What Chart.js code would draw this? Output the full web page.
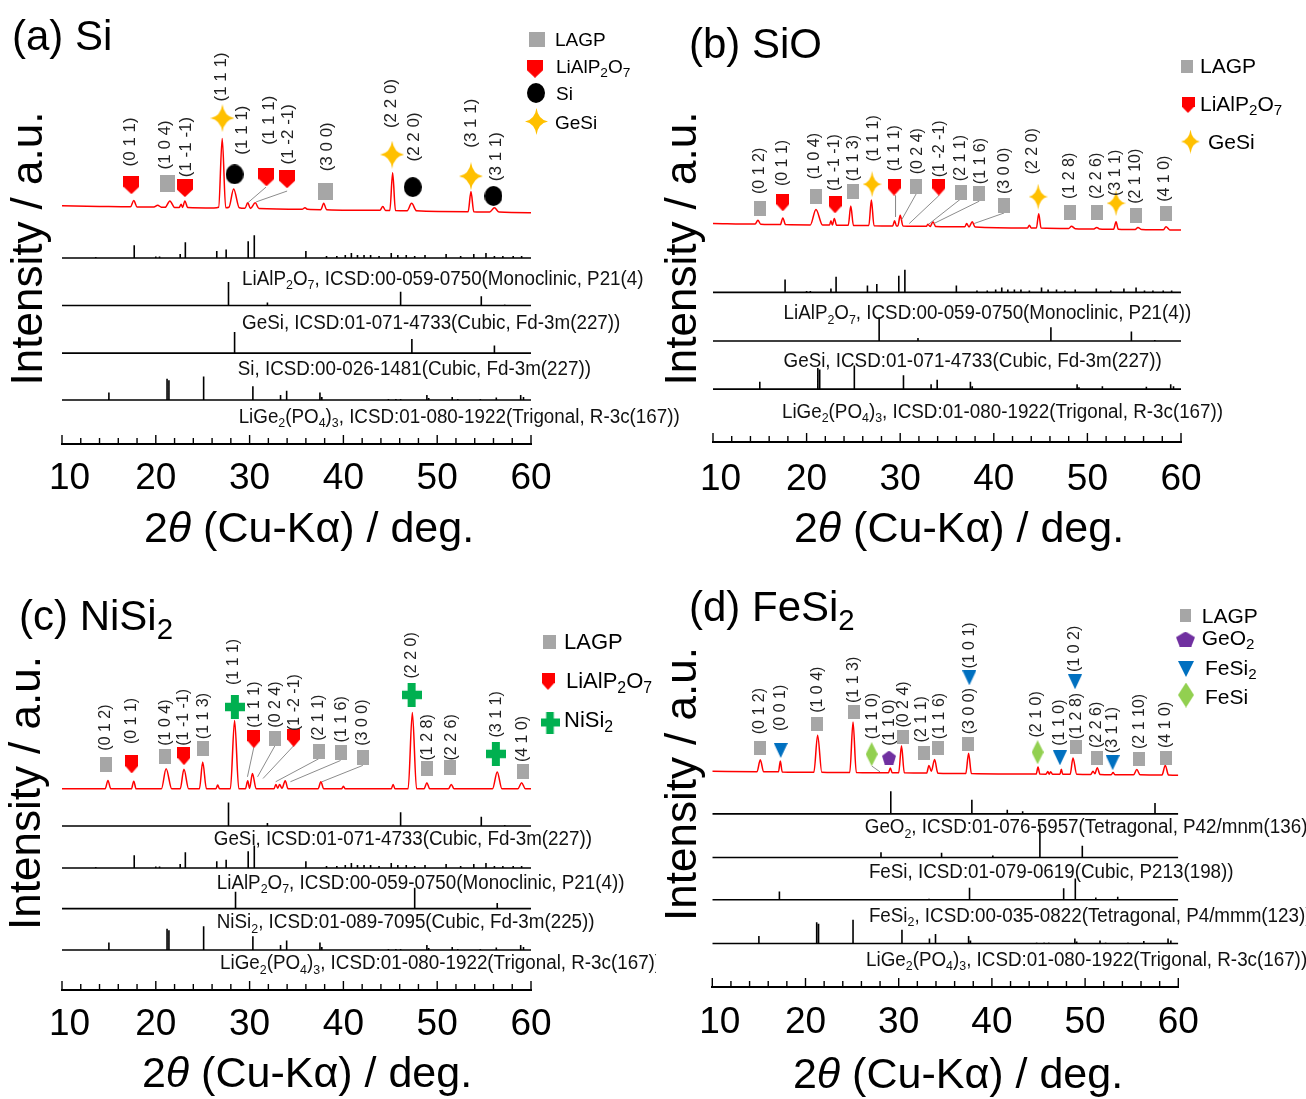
<!DOCTYPE html>
<html><head><meta charset="utf-8">
<script src="https://cdn.jsdelivr.net/npm/chart.js@4.4.1/dist/chart.umd.min.js"></script>
<style>
html,body{margin:0;padding:0;background:#fff;}
body{width:1306px;height:1099px;position:relative;overflow:hidden;}
canvas{position:absolute;}
</style></head><body>
<canvas id="cb" width="653" height="560" style="left:653px;top:0"></canvas>
<canvas id="cd" width="653" height="539" style="left:653px;top:560px"></canvas>
<canvas id="ca" width="700" height="560" style="left:0;top:0"></canvas>
<canvas id="cc" width="656" height="539" style="left:0;top:560px"></canvas>
<script>
// ---------------- DATA ----------------
const X_TICK_LABELS = [10, 20, 30, 40, 50, 60];

// measured patterns: [2theta, intensity (a.u.)]
const A_PATTERN = [[10,7],[14,6.4],[17.3,6],[17.65,12.3],[18.0,5.9],[19.8,5.7],[20.2,7.5],[20.6,5.6],[21.0,5.5],[21.5,12],[22.0,5.4],[22.5,5.4],[22.7,8.5],[22.85,5.4],[23.1,12],[23.4,5.3],[26.2,4.8],[26.7,5.5],[27.08,75.5],[27.45,5],[27.8,5.5],[28.3,24],[28.9,5],[29.5,4.4],[29.8,10],[30.1,4.3],[30.6,10],[31.0,4.2],[35.6,3.5],[35.9,5],[36.2,3.4],[37.6,3.1],[37.9,9.7],[38.2,3.1],[43.9,2.4],[44.2,6.3],[44.5,2.3],[44.95,2.2],[45.25,40.5],[45.55,2.2],[46.8,2],[47.27,9.5],[47.8,1.9],[53.3,1],[53.6,21.5],[53.9,1],[55.6,0.7],[56.1,5],[56.6,0.6],[60,0]];
const B_PATTERN = [[10,6.7],[14.5,6.1],[14.8,10],[15.1,6.0],[17.2,5.7],[17.46,12.4],[17.75,5.6],[20.4,5.3],[21.0,21],[21.7,5.2],[22.45,5.1],[22.6,9.5],[22.75,5.1],[22.96,11.7],[23.2,5.0],[24.45,4.9],[24.72,24.4],[25.0,4.8],[26.65,4.6],[26.92,30.7],[27.2,4.5],[29.2,4.3],[29.4,9.4],[29.6,4.2],[29.75,4.2],[30.0,15],[30.3,4.1],[32.8,3.8],[32.95,6],[33.2,3.7],[33.5,8.4],[33.8,3.6],[36.9,3.3],[37.1,6.7],[37.35,3.2],[37.7,8.4],[38.0,3.2],[43.6,2.2],[43.8,5],[44.0,2.2],[44.55,2.1],[44.8,16.7],[45.05,2.1],[48.0,1.6],[48.3,4],[48.7,1.5],[50.7,1.2],[51.0,2.7],[51.3,1.2],[52.8,0.9],[53.06,8.4],[53.3,0.9],[55.1,0.6],[55.4,2.7],[55.8,0.6],[58.1,0.3],[58.4,3.4],[58.8,0.2],[60,0]];
const C_PATTERN = [[10,0.5],[14.6,0.5],[14.9,9],[15.2,0.5],[17.4,0.5],[17.65,8.3],[17.9,0.5],[20.6,0.5],[21.1,21],[21.7,0.5],[22.6,0.5],[23.0,20.3],[23.5,0.5],[24.65,0.5],[25.0,27.7],[25.4,0.5],[26.4,0.5],[26.6,4.3],[26.8,0.5],[27.95,0.5],[28.4,70],[28.85,0.5],[29.55,0.5],[29.8,8.7],[30.0,1],[30.3,16],[30.7,0.5],[32.6,0.5],[32.8,5],[33.0,1],[33.2,5],[33.45,1],[33.8,8.7],[34.1,0.5],[37.3,0.5],[37.6,7.7],[37.9,0.5],[39.8,0.5],[40.0,3],[40.2,0.5],[45.1,0.5],[45.3,5],[45.5,0.5],[46.9,0.5],[47.35,78],[47.8,0.5],[48.6,0.5],[48.9,6.7],[49.2,0.5],[51.2,0.5],[51.5,5],[51.8,0.5],[55.9,0.5],[56.4,17.7],[56.9,0.5],[58.6,0.5],[59.0,6.7],[59.4,0.5],[60,0.5]];
const D_PATTERN = [[10,4.0],[14.8,3.6],[15.15,15.7],[15.5,3.6],[17.1,3.5],[17.3,14.4],[17.5,3.4],[20.9,3.1],[21.3,40.7],[21.75,3.1],[24.75,2.8],[25.1,54],[25.45,2.8],[28.9,2.5],[29.1,7.4],[29.3,2.5],[30.0,2.4],[30.3,30],[30.6,2.4],[33.0,2.2],[33.25,10],[33.5,4],[33.85,16],[34.2,2.1],[37.2,1.8],[37.5,22.4],[37.8,1.8],[44.75,1.2],[44.95,8.4],[45.15,1.2],[45.8,1.1],[46.0,3.7],[46.15,1.1],[46.3,3.5],[46.5,1.1],[47.3,1],[47.45,6],[47.6,1],[48.4,1],[48.7,17.4],[49.1,1],[50.6,0.8],[50.85,4],[51.05,1.5],[51.3,7.7],[51.6,0.8],[52.8,0.6],[53.0,2.7],[53.2,0.6],[55.2,0.4],[55.55,5.7],[55.9,0.4],[58.25,0.2],[58.6,10],[58.95,0.2],[60,0]];

// reference cards: [2theta, relative intensity]
const CARD_LIALP2O7 = [[13.6,1],[17.7,13],[20.0,1.5],[20.4,1.5],[22.6,4],[23.15,16],[26.5,7],[27.5,8.5],[29.85,17],[30.5,23],[36.0,7],[38.2,2],[39.3,2],[40.2,3],[40.85,5],[41.5,3],[42.2,3],[42.9,3],[43.8,2],[45.1,5],[45.8,3],[46.7,3],[47.6,2],[48.7,3],[50.95,4],[52.5,2],[53.9,4],[55.2,5],[56.1,2],[57.0,2],[58.1,2],[59.0,2]];
const CARD_GESI = [[27.75,24],[31.9,3],[46.1,14],[54.7,9.5],[57.2,1]];
const CARD_SI = [[28.4,21.5],[47.3,14.3],[56.1,7.7]];
const CARD_LIGE = [[15.0,7.5],[21.2,21.5],[21.4,20],[25.1,24],[30.35,14],[33.3,5],[33.95,9.5],[37.5,7.5],[37.7,3],[43.5,0.8],[44.8,1],[45.6,1],[46.1,1],[48.9,5],[49.1,2],[51.6,3],[52.2,1],[54.6,1],[56.3,2.5],[58.9,5],[59.2,3]];
const CARD_NISI2 = [[28.5,17.3],[47.6,21.3],[56.4,5.7]];
const CARD_GEO2 = [[29.15,23],[37.85,14.3],[41.65,4.3],[43.3,2.7],[57.5,11]];
const CARD_FESI = [[28.1,5.3],[34.6,4.7],[40.1,2],[45.15,32],[49.7,12]];
const CARD_FESI2 = [[17.2,8.3],[33.25,1],[37.6,12.3],[47.7,11.7],[48.95,21.7],[51.15,2.3],[53.5,3]];

// phase markers: [2theta, level]
const A_LAGP = [[21.2,264.5],[38.1,257]];
const A_LIALP = [[17.4,263],[23.1,260],[31.8,271],[34.0,269]];
const A_SI = [[28.4,274],[47.4,261],[56.0,252]];
const A_GESI = [[27.1,331],[45.2,294],[53.6,272]];
const B_LAGP = [[15.0,237.5],[20.97,249],[24.94,254.5],[31.7,260],[36.47,254],[38.45,252],[41.1,240.3],[48.13,233],[51.0,233],[55.18,230.5],[58.39,232]];
const B_LIALP = [[17.46,243],[23.04,241],[29.34,259],[34.13,259]];
const B_GESI = [[27.0,262],[44.74,249.3],[53.06,242.7]];
const C_LAGP = [[14.7,229.3],[21.02,237.7],[25.06,245],[32.7,256],[37.36,242.3],[39.7,241],[42.07,236],[48.93,225],[51.4,225.7],[59.1,222.3]];
const C_LIALP = [[17.43,229.3],[23.0,237.7],[30.45,255],[34.7,256.3]];
const C_NISI2 = [[28.43,287.7],[47.27,300],[56.25,240]];
const D_LAGP = [[15.12,243.2],[21.27,267.8],[25.2,280],[30.5,253.7],[32.75,238.2],[34.25,243.3],[37.47,247.3],[48.99,243.7],[51.24,232.5],[55.82,231.5],[58.65,233.2]];
const D_FESI2 = [[17.34,240.5],[37.58,314.3],[47.3,233],[48.92,310.3],[52.96,228]];
const D_FESI = [[27.1,236.7],[44.9,238.7]];
const D_GEO2 = [[28.96,233.3]];

// hkl labels: [2theta, level, text]
const A_HKL = [[17.3,282,'(0 1 1)'],[21.0,279,'(1 0 4)'],[23.3,271,'(1 -1 -1)'],[26.95,348,'(1 1 1)'],[29.2,294,'(1 1 1)'],[32.1,304,'(1 1 1)'],[34.1,284,'(1 -2 -1)'],[38.3,277,'(3 0 0)'],[45.1,321,'(2 2 0)'],[47.6,287,'(2 2 0)'],[53.6,301,'(3 1 1)'],[56.3,267,'(3 1 1)']];
const B_HKL = [[15.0,252,'(0 1 2)'],[17.46,260,'(0 1 1)'],[20.85,267,'(1 0 4)'],[23.04,255,'(1 -1 -1)'],[25.02,265,'(1 1 3)'],[27.2,285,'(1 1 1)'],[29.43,275,'(1 1 1)'],[31.85,272,'(0 2 4)'],[34.18,269,'(1 -2 -1)'],[36.47,265,'(2 1 1)'],[38.58,262,'(1 1 6)'],[41.1,252,'(3 0 0)'],[44.18,272,'(2 2 0)'],[48.13,247,'(1 2 8)'],[51.0,247,'(2 2 6)'],[52.98,250,'(3 1 1)'],[55.18,242,'(2 1 10)'],[58.26,244,'(4 1 0)']];
const C_HKL = [[14.7,243.3,'(0 1 2)'],[17.43,250,'(0 1 1)'],[21.02,248.3,'(1 0 4)'],[23.0,248.3,'(1 -1 -1)'],[25.06,255,'(1 1 3)'],[28.3,310,'(1 1 1)'],[30.5,266.7,'(1 1 1)'],[32.8,266.7,'(0 2 4)'],[34.8,263.3,'(1 -2 -1)'],[37.36,253.3,'(2 1 1)'],[39.83,251.7,'(1 1 6)'],[42.07,248.3,'(3 0 0)'],[47.27,316.7,'(2 2 0)'],[48.93,233.3,'(1 2 8)'],[51.5,233.3,'(2 2 6)'],[56.3,256.7,'(3 1 1)'],[59.1,231.7,'(4 1 0)']];
const D_HKL = [[15.12,257,'(0 1 2)'],[17.34,260.3,'(0 0 1)'],[21.27,278.7,'(1 0 4)'],[25.2,288.7,'(1 1 3)'],[27.2,252,'(1 1 0)'],[29.07,245.3,'(1 1 0)'],[30.5,263.7,'(0 2 4)'],[32.47,248.7,'(2 1 1)'],[34.36,252,'(1 1 6)'],[37.6,257,'(3 0 0)'],[37.6,323.7,'(1 0 1)'],[44.8,253.7,'(2 1 0)'],[47.3,245.3,'(1 1 0)'],[49.05,252,'(1 2 8)'],[48.92,320.3,'(1 0 2)'],[51.24,243,'(2 2 6)'],[52.96,237.7,'(3 1 1)'],[55.82,242,'(2 1 10)'],[58.65,243,'(4 1 0)']];

// leader lines: [x1, y1, x2, y2]
const A_LEADERS = [[31.75,261,29.8,245],[34.0,257,30.7,246]];
const B_LEADERS = [[29.5,250.3,29.5,228.7],[31.7,252,30.17,226],[34.13,250.3,30.97,222],[36.47,247,33.04,221.3],[38.45,244.7,33.6,222],[41.1,232.7,37.9,222]];
const C_LEADERS = [[30.45,246.7,29.77,216.7],[32.7,248.3,30.85,216.7],[34.7,248.3,31.43,215],[37.36,235,32.78,211.7],[39.7,233.3,34.35,211.7],[42.07,228.3,37.72,211.7]];
const D_LEADERS = [[27.1,224.7,28.0,218.7]];

// ---------------- STYLE / HELPERS ----------------
const GRAY='#A6A6A6', RED='#FF0000', GOLD='#FFC000', GREEN='#00B050', PURPLE='#7030A0', BLUE='#0070C0', LGREEN='#92D050';
const SANS = "'Liberation Sans', Arial, Helvetica, sans-serif";
const HKLF = "'Liberation Sans', Arial, sans-serif";

function mk(shape, w, h, color){
  const c = document.createElement('canvas'); c.width = w; c.height = h;
  const g = c.getContext('2d'); g.fillStyle = color; g.beginPath();
  const cx = w/2, cy = h/2;
  if (shape === 'square') g.rect(0,0,w,h);
  else if (shape === 'shield'){ g.moveTo(0,0); g.lineTo(w,0); g.lineTo(w,h*0.58); g.lineTo(cx,h); g.lineTo(0,h*0.58); g.closePath(); }
  else if (shape === 'circle') g.ellipse(cx,cy,w/2,h/2,0,0,Math.PI*2);
  else if (shape === 'star4'){ const a=w*0.07, b=h*0.07;
    g.moveTo(cx,0); g.quadraticCurveTo(cx+a,cy-b,w,cy); g.quadraticCurveTo(cx+a,cy+b,cx,h);
    g.quadraticCurveTo(cx-a,cy+b,0,cy); g.quadraticCurveTo(cx-a,cy-b,cx,0); g.closePath(); }
  else if (shape === 'cross'){ const t=w*0.4, u=h*0.36; g.rect(cx-t/2,0,t,h); g.rect(0,cy-u/2,w,u); }
  else if (shape === 'triDown'){ g.moveTo(0,0); g.lineTo(w,0); g.lineTo(cx,h); g.closePath(); }
  else if (shape === 'diamond'){ g.moveTo(cx,0); g.lineTo(w,cy); g.lineTo(cx,h); g.lineTo(0,cy); g.closePath(); }
  else if (shape === 'pentagon'){ const rx=w/1.902, ry=h/1.809;
    for (let i=0;i<5;i++){ const an=-Math.PI/2+i*2*Math.PI/5; const px=cx+rx*Math.cos(an), py=ry+ry*Math.sin(an); i?g.lineTo(px,py):g.moveTo(px,py); } g.closePath(); }
  g.fill();
  return c;
}
function segs(str){
  const out=[]; let i=0, buf='';
  while(i<str.length){
    if ((str[i]==='_'||str[i]==='*') && str[i+1]==='{'){
      if (buf){ out.push({t:buf,k:'n'}); buf=''; }
      const j=str.indexOf('}',i); out.push({t:str.slice(i+2,j),k:str[i]==='_'?'s':'i'}); i=j+1;
    } else { buf+=str[i]; i++; }
  }
  if (buf) out.push({t:buf,k:'n'});
  return out;
}
function drawRich(ctx, str, x, y, size, align, fam, color, sx, subScale){
  sx = sx || 1; subScale = subScale || 0.66;
  const parts = segs(str);
  const f = k => k==='s' ? `${size*subScale}px ${fam}` : k==='i' ? `italic ${size}px ${fam}` : `${size}px ${fam}`;
  let w=0; parts.forEach(p=>{ ctx.font=f(p.k); p.w=ctx.measureText(p.t).width; w+=p.w; });
  ctx.save(); ctx.translate(x, y); ctx.scale(sx, 1);
  let cx = align==='center' ? -w/2 : align==='right' ? -w : 0;
  ctx.fillStyle=color; ctx.textAlign='left'; ctx.textBaseline='alphabetic';
  parts.forEach(p=>{ ctx.font=f(p.k); ctx.fillText(p.t, cx, p.k==='s' ? size*0.22 : 0); cx+=p.w; });
  ctx.restore();
}
function sticks(card, off){
  const pts=[{x:10,y:off}];
  card.forEach(([p,h])=>{ pts.push({x:p,y:off},{x:p,y:off+h},{x:p,y:off}); });
  pts.push({x:60,y:off}); return pts;
}
function leaderPts(L){ const pts=[]; L.forEach(([a,b,c,d])=>{ pts.push({x:a,y:b},{x:c,y:d},{x:c,y:null}); }); return pts; }

// ---------------- PANELS ----------------
const PANELS = [
 { id:'ca', left:62, right:169, axisH:116, yMax:444,
   pattern:A_PATTERN, patternOffset:235,
   cards:[ {data:CARD_LIALP2O7, off:189, label:'LiAlP_{2}O_{7}, ICSD:00-059-0750(Monoclinic, P21(4)', lx:29.2, ly:169},
           {data:CARD_GESI, off:140.7, label:'GeSi, ICSD:01-071-4733(Cubic, Fd-3m(227))', lx:29.2, ly:124},
           {data:CARD_SI, off:92.3, label:'Si, ICSD:00-026-1481(Cubic, Fd-3m(227))', lx:28.74, ly:77.3},
           {data:CARD_LIGE, off:44.7, label:'LiGe_{2}(PO_{4})_{3}, ICSD:01-080-1922(Trigonal, R-3c(167))', lx:28.83, ly:29} ],
   markers:[ {data:A_LAGP, img:mk('square',15,17,GRAY)}, {data:A_LIALP, img:mk('shield',16,18,RED)},
             {data:A_SI, img:mk('circle',18,20,'#000')}, {data:A_GESI, img:mk('star4',24,28,GOLD)} ],
   hkl:A_HKL, hklFont:17, leaders:A_LEADERS,
   title:'(a) Si', titlePos:[12,50], ytitle:[42,248.5], xtitle:[309,542], tickBase:489, legendFont:19,
   legend:[ {img:mk('square',16,15,GRAY), mx:537, my:39.5, text:'LAGP', tx:555, ty:39},
            {img:mk('shield',16,18,RED), mx:535, my:68.8, text:'LiAlP_{2}O_{7}', tx:556, ty:66},
            {img:mk('circle',18,20,'#000'), mx:536, my:93, text:'Si', tx:556, ty:93.5},
            {img:mk('star4',23,27,GOLD), mx:536.5, my:121.5, text:'GeSi', tx:555, ty:122.5} ] },
 { id:'cb', left:60, right:125, axisH:118, yMax:442,
   pattern:B_PATTERN, patternOffset:215.3,
   cards:[ {data:CARD_LIALP2O7, off:152, label:'LiAlP_{2}O_{7}, ICSD:00-059-0750(Monoclinic, P21(4))', lx:17.54, ly:132},
           {data:CARD_GESI, off:102.7, label:'GeSi, ICSD:01-071-4733(Cubic, Fd-3m(227))', lx:17.54, ly:83.7},
           {data:CARD_LIGE, off:53.7, label:'LiGe_{2}(PO_{4})_{3}, ICSD:01-080-1922(Trigonal, R-3c(167))', lx:17.37, ly:32} ],
   markers:[ {data:B_LAGP, img:mk('square',12,15,GRAY)}, {data:B_LIALP, img:mk('shield',13,17,RED)},
             {data:B_GESI, img:mk('star4',19,26,GOLD)} ],
   hkl:B_HKL, hklFont:16, leaders:B_LEADERS,
   title:'(b) SiO', titlePos:[36,58], ytitle:[42.5,248.5], xtitle:[306,542], tickBase:490, legendFont:21,
   legend:[ {img:mk('square',12,13,GRAY), mx:534, my:66, text:'LAGP', tx:547, ty:65},
            {img:mk('shield',13,16,RED), mx:535, my:105, text:'LiAlP_{2}O_{7}', tx:547, ty:103},
            {img:mk('star4',19,24,GOLD), mx:537.5, my:141.5, text:'GeSi', tx:555, ty:141.5} ] },
 { id:'cc', left:62, right:125, axisH:109, yMax:430,
   pattern:C_PATTERN, patternOffset:204,
   cards:[ {data:CARD_GESI, off:166.7, label:'GeSi, ICSD:01-071-4733(Cubic, Fd-3m(227))', lx:26.18, ly:155},
           {data:CARD_LIALP2O7, off:124, label:'LiAlP_{2}O_{7}, ICSD:00-059-0750(Monoclinic, P21(4))', lx:26.5, ly:110},
           {data:CARD_NISI2, off:82.7, label:'NiSi_{2}, ICSD:01-089-7095(Cubic, Fd-3m(225))', lx:26.5, ly:70},
           {data:CARD_LIGE, off:40.7, label:'LiGe_{2}(PO_{4})_{3}, ICSD:01-080-1922(Trigonal, R-3c(167))', lx:26.85, ly:28.3} ],
   markers:[ {data:C_LAGP, img:mk('square',12,15,GRAY)}, {data:C_LIALP, img:mk('shield',13,18,RED)},
             {data:C_NISI2, img:mk('cross',20,24,GREEN)} ],
   hkl:C_HKL, hklFont:16, leaders:C_LEADERS,
   title:'(c) NiSi_{2}', titlePos:[19,70], ytitle:[40,233], xtitle:[307,527], tickBase:475, legendFont:22,
   legend:[ {img:mk('square',13,14,GRAY), mx:549, my:81.7, text:'LAGP', tx:564, ty:81.5},
            {img:mk('shield',13,17,RED), mx:548, my:121.5, text:'LiAlP_{2}O_{7}', tx:566, ty:120},
            {img:mk('cross',19,22,GREEN), mx:550, my:162.5, text:'NiSi_{2}', tx:564, ty:159} ] },
 { id:'cd', left:59.3, right:127.7, axisH:112, yMax:427,
   pattern:D_PATTERN, patternOffset:215.3,
   cards:[ {data:CARD_GEO2, off:176, label:'GeO_{2}, ICSD:01-076-5957(Tetragonal, P42/mnm(136))', lx:26.36, ly:163.7},
           {data:CARD_FESI, off:131.7, label:'FeSi, ICSD:01-079-0619(Cubic, P213(198))', lx:26.8, ly:117.7},
           {data:CARD_FESI2, off:88.7, label:'FeSi_{2}, ICSD:00-035-0822(Tetragonal, P4/mmm(123))', lx:26.8, ly:73.7},
           {data:CARD_LIGE, off:44.3, label:'LiGe_{2}(PO_{4})_{3}, ICSD:01-080-1922(Trigonal, R-3c(167))', lx:26.5, ly:28.7} ],
   markers:[ {data:D_LAGP, img:mk('square',12,14,GRAY)}, {data:D_FESI2, img:mk('triDown',14,15,BLUE)},
             {data:D_FESI, img:mk('diamond',12,24,LGREEN)}, {data:D_GEO2, img:mk('pentagon',14,14,PURPLE)} ],
   hkl:D_HKL, hklFont:16, leaders:D_LEADERS,
   title:'(d) FeSi_{2}', titlePos:[36,61], ytitle:[42.5,224], xtitle:[305,528], tickBase:473, legendFont:21,
   legend:[ {img:mk('square',11,13,GRAY), mx:532.3, my:55, text:'LAGP', tx:548.7, ty:55},
            {img:mk('pentagon',19,15,PURPLE), mx:532.5, my:79, text:'GeO_{2}', tx:548.7, ty:77},
            {img:mk('triDown',16,16,BLUE), mx:533, my:109, text:'FeSi_{2}', tx:552, ty:107},
            {img:mk('diamond',16,25,LGREEN), mx:533, my:135, text:'FeSi', tx:552, ty:136.7} ] }
];

function decor(P){ return { id:'decor', afterDraw(chart){
  const ctx=chart.ctx, xs=chart.scales.x, ys=chart.scales.y, ca=chart.chartArea;
  ctx.save();
  ctx.strokeStyle='#000'; ctx.lineWidth=1.4;
  xs.ticks.forEach(t=>{ const px=xs.getPixelForValue(t.value); const major=X_TICK_LABELS.includes(t.value);
    ctx.beginPath(); ctx.moveTo(px, ca.bottom); ctx.lineTo(px, ca.bottom-(major?9:6)); ctx.stroke(); });
  ctx.fillStyle='#000'; ctx.font=`37px ${SANS}`; ctx.textAlign='center'; ctx.textBaseline='alphabetic';
  X_TICK_LABELS.forEach((v,i)=>{ ctx.fillText(String(v), xs.getPixelForValue(v)+(i===0?7.5:0), P.tickBase); });
  drawRich(ctx, '2*{θ} (Cu-Kα) / deg.', P.xtitle[0], P.xtitle[1], 43, 'center', SANS, '#000');
  ctx.save(); ctx.translate(P.ytitle[0], P.ytitle[1]); ctx.rotate(-Math.PI/2);
  drawRich(ctx, 'Intensity / a.u.', 0, 0, 44, 'center', SANS, '#000'); ctx.restore();
  drawRich(ctx, P.title, P.titlePos[0], P.titlePos[1], 42, 'left', SANS, '#000', 1, 0.7);
  P.legend.forEach(L=>{ ctx.drawImage(L.img, L.mx-L.img.width/2, L.my-L.img.height/2);
    drawRich(ctx, L.text, L.tx, L.ty+0.358*P.legendFont, P.legendFont, 'left', SANS, '#000', 1, 0.72); });
  P.cards.forEach(c=>{ drawRich(ctx, c.label, xs.getPixelForValue(c.lx), ys.getPixelForValue(c.ly)+7.2, 20, 'left', SANS, '#111', 0.94, 0.66); });
  ctx.fillStyle='#222'; ctx.font=`${P.hklFont}px ${HKLF}`; ctx.textAlign='left'; ctx.textBaseline='middle';
  P.hkl.forEach(([x,y,t])=>{ ctx.save(); ctx.translate(xs.getPixelForValue(x), ys.getPixelForValue(y)); ctx.rotate(-Math.PI/2); ctx.fillText(t,0,0); ctx.restore(); });
  ctx.restore();
}}; }

PANELS.forEach(P=>{
  const ds=[];
  ds.push({type:'line', data:P.pattern.map(([x,y])=>({x, y:y+P.patternOffset})), borderColor:RED, borderWidth:1.5,
           pointRadius:0, cubicInterpolationMode:'monotone', order:3});
  P.cards.forEach(c=>ds.push({type:'line', data:sticks(c.data,c.off), borderColor:'#000', borderWidth:1.6,
           pointRadius:0, tension:0, borderJoinStyle:'bevel', order:4}));
  ds.push({type:'line', data:leaderPts(P.leaders), borderColor:'#8c8c8c', borderWidth:1, pointRadius:0, spanGaps:false, order:2});
  P.markers.forEach(m=>ds.push({type:'line', showLine:false, data:m.data.map(([x,y])=>({x,y})), pointStyle:m.img,
           pointRadius:6, order:1}));
  new Chart(document.getElementById(P.id), {
    type:'line', data:{datasets:ds},
    options:{ responsive:false, animation:false, events:[],
      layout:{padding:{left:P.left, right:P.right, top:0, bottom:0}},
      plugins:{legend:{display:false}, tooltip:{enabled:false}},
      scales:{
        x:{type:'linear', min:10, max:60, ticks:{display:false, stepSize:2}, grid:{display:false, drawTicks:false},
           border:{display:true, color:'#000', width:2}, afterFit:s=>{ s.height=P.axisH; }},
        y:{type:'linear', display:false, min:0, max:P.yMax}
      }},
    plugins:[decor(P)]
  });
});
</script>
</body></html>
